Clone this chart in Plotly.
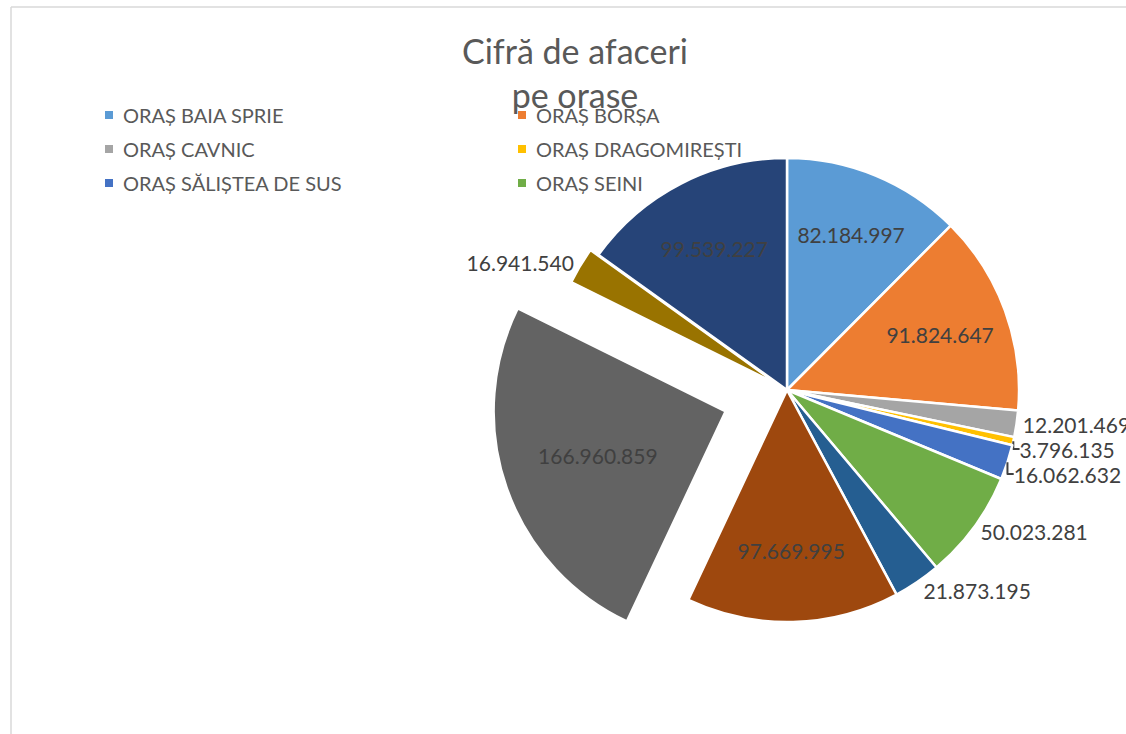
import plotly.graph_objects as go

categories = ["ORAȘ BAIA SPRIE", "ORAȘ BORȘA", "ORAȘ CAVNIC", "ORAȘ DRAGOMIREȘTI",
              "ORAȘ SĂLIȘTEA DE SUS", "ORAȘ SEINI", "ORAȘ ȘOMCUTA MARE",
              "ORAȘ TĂUȚII-MĂGHERĂUȘ", "ORAȘ TÂRGU LĂPUȘ", "ORAȘ ULMENI", "ORAȘ VIȘEU DE SUS"]
values = [82184997, 91824647, 12201469, 3796135, 16062632, 50023281,
          21873195, 97669995, 166960859, 16941540, 99539227]
colors = ["#5B9BD5", "#ED7D31", "#A5A5A5", "#FFC000", "#4472C4", "#70AD47",
          "#255E91", "#9E480E", "#636363", "#997300", "#264478"]
pulls = [0, 0, 0, 0, 0, 0, 0, 0, 0.28, 0.04, 0]
positions = ["inside", "inside", "outside", "outside", "outside", "outside",
             "outside", "inside", "inside", "outside", "inside"]
legend_shown = categories[:6]

W, H = 1126, 734
FONT = "Lato"
TXT = "#404040"

fig = go.Figure()
fig.add_trace(go.Pie(
    labels=categories, values=values, sort=False, direction="clockwise", rotation=0,
    marker=dict(colors=colors, line=dict(color="white", width=2.5)),
    pull=pulls, textposition=positions, texttemplate="%{value:,.0f}",
    insidetextorientation="horizontal", automargin=False,
    textfont=dict(family=FONT, size=21, color=TXT),
    showlegend=False, hoverinfo="label+value",
    domain=dict(x=[490 / W, 1084 / W], y=[(734 - 390 - 297) / H, (734 - 390 + 297) / H]),
))

annotations = [dict(text="Cifră de afaceri<br>pe orase", x=575 / W, y=1 - 28 / H,
                    xref="paper", yref="paper", xanchor="center", yanchor="top",
                    showarrow=False, font=dict(family=FONT, size=34, color="#595959"),
                    align="center")]
shapes = [
    dict(type="line", xref="paper", yref="paper", x0=11 / W, x1=1, y0=1 - 7 / H, y1=1 - 7 / H,
         line=dict(color="#D9D9D9", width=1.5)),
    dict(type="line", xref="paper", yref="paper", x0=11 / W, x1=11 / W, y0=0, y1=1 - 7 / H,
         line=dict(color="#D9D9D9", width=1.5)),
]
col_x = [105, 518]
row_y = [115, 149, 183]
for i, name in enumerate(legend_shown):
    cx = col_x[i % 2]
    cy = row_y[i // 2]
    shapes.append(dict(type="rect", xref="paper", yref="paper",
                       x0=cx / W, x1=(cx + 8) / W, y0=1 - (cy + 4) / H, y1=1 - (cy - 4) / H,
                       fillcolor=colors[i], line=dict(width=0)))
    annotations.append(dict(text=name, x=(cx + 16) / W, y=1 - cy / H, xref="paper", yref="paper",
                            xanchor="left", yanchor="middle", showarrow=False,
                            font=dict(family=FONT, size=20, color="#595959")))

fig.update_layout(
    autosize=True, margin=dict(l=0, r=0, t=0, b=0, pad=0, autoexpand=False),
    paper_bgcolor="white", plot_bgcolor="white", showlegend=False,
    separators=",.", annotations=annotations, shapes=shapes,
)
page_css = ("document.documentElement.style.margin='0';document.body.style.margin='0';"
            "document.documentElement.style.overflow='hidden';document.body.style.overflow='hidden';"
            "window.dispatchEvent(new Event('resize'));")
fig.write_html("out.html", default_width="100vw", default_height="100vh",
               config={"responsive": True, "displayModeBar": False},
               post_script=page_css)
